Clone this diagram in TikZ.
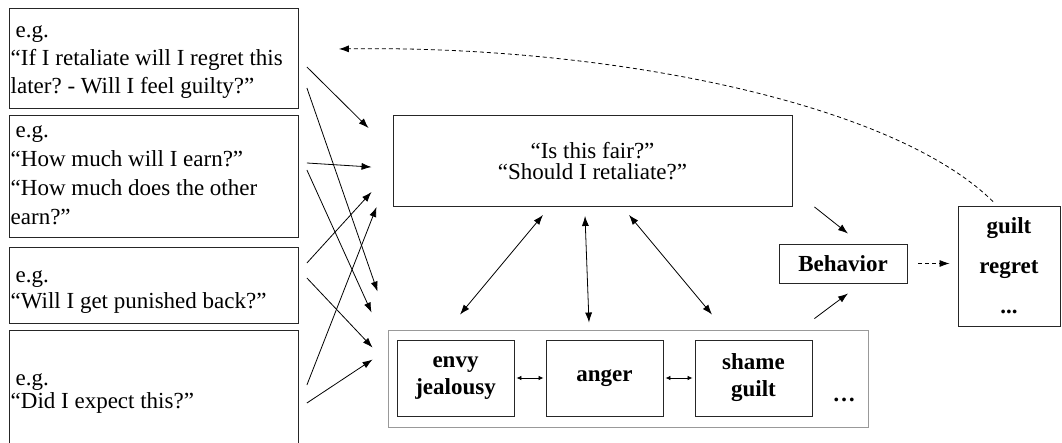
\documentclass[tikz,border=0pt]{standalone}
\usepackage{fontspec}
\setmainfont{Liberation Serif}
\usetikzlibrary{arrows.meta,calc}
\begin{document}
\frenchspacing
\begin{tikzpicture}[x=1pt,y=-1pt,
  box/.style={draw=black!85, line width=0.9pt, inner sep=0pt},
  qbox/.style={box, anchor=north west, minimum width=289pt},
  qtext/.style={anchor=base west, inner sep=0pt},
  ebox/.style={box, minimum width=117pt, minimum height=76pt, align=flush center,
    font=\fontsize{23}{27}\selectfont\bfseries},
  arr/.style={line width=0.8pt, -{Latex[length=10pt,width=7pt]}},
  darr/.style={line width=0.8pt, {Latex[length=10pt,width=7pt]}-{Latex[length=10pt,width=7pt]}},
  sarr/.style={line width=0.8pt, {Latex[length=5pt,width=4.5pt]}-{Latex[length=5pt,width=4.5pt]}},
  dsh/.style={line width=0.8pt, dash pattern=on 4pt off 3pt, -{Latex[length=10pt,width=7pt]}}
]
\path[use as bounding box, clip] (0,0) rectangle (1062,443);

% left question boxes
\node[qbox, minimum height=100pt] (b1) at (9,8) {};
\node[qbox, minimum height=122pt] (b2) at (9,115) {};
\node[qbox, minimum height=76pt] (b3) at (9,247) {};
\node[qbox, minimum height=123pt] (b4) at (9,330) {};

\node[qtext, font=\fontsize{23}{28}\selectfont] (t1) at (10.5,38)
  {\parbox[t]{285pt}{\raggedright\hspace*{5pt}e.g.\\“If I retaliate will I regret this\\later? - Will I feel guilty?”}};
\node[qtext, font=\fontsize{23}{28.7}\selectfont] (t2) at (10.5,138)
  {\parbox[t]{285pt}{\raggedright\hspace*{5pt}e.g.\\“How much will I earn?”\\“How much does the other\\earn?”}};
\node[qtext, font=\fontsize{23}{26}\selectfont] (t3) at (10.5,283)
  {\parbox[t]{285pt}{\raggedright\hspace*{5pt}e.g.\\“Will I get punished back?”}};
\node[qtext, font=\fontsize{23}{23}\selectfont] (t4) at (10.5,385)
  {\parbox[t]{285pt}{\raggedright\hspace*{5pt}e.g.\\“Did I expect this?”}};

% central question box
\node[box, minimum width=399pt, minimum height=91pt, align=flush center,
  font=\fontsize{23}{21}\selectfont] (c) at (592.5,161)
  {“Is this fair?”\\“Should I retaliate?”};

% emotion container
\node[draw=black!40, line width=0.9pt, minimum width=480pt, minimum height=97pt] (emo) at (628,378.5) {};
\node[ebox] (envy) at (455.5,378) {envy\\jealousy};
\node[ebox] (anger) at (604.5,378) {anger};
\node[ebox] (shame) at (753.5,378) {shame\\guilt};
\node[font=\fontsize{23}{27}\selectfont\bfseries] (dots) at (844,400) {…};

% behavior and outcome
\node[box, minimum width=128pt, minimum height=39pt, font=\fontsize{23}{27}\selectfont\bfseries] (beh) at (843,263.5) {Behavior};
\node[box, minimum width=102pt, minimum height=120pt, align=flush center,
  font=\fontsize{23}{40}\selectfont\bfseries] (out) at (1009,266) {guilt\\regret\\...};

% arrows from left boxes
\draw[arr] ($(b1.north east)+(8,59)$) -- ($(c.north west)+(-24,13)$);
\draw[arr] ($(b1.north east)+(8,80)$) -- ($(emo.north west)+(-10,-38)$);
\draw[arr] ($(b2.north east)+(8,48)$) -- ($(c.north west)+(-21,52)$);
\draw[arr] ($(b2.north east)+(8,55)$) -- ($(emo.north west)+(-16,-17)$);
\draw[arr] ($(b3.north east)+(8,16)$) -- ($(c.south west)+(-21,-15)$);
\draw[arr] ($(b3.north east)+(8,31)$) -- ($(emo.north west)+(-15,18)$);
\draw[arr] ($(b4.north east)+(8,55)$) -- ($(c.south west)+(-16,0)$);
\draw[arr] ($(b4.north east)+(8,73)$) -- ($(emo.north west)+(-15,30)$);

% centre <-> emotions
\draw[darr] ($(c.south)+(-49.5,8)$) -- ($(envy.north)+(4.5,-25)$);
\draw[darr] ($(c.south)+(-7.5,9)$) -- ($(anger.north)+(-15.5,-17)$);
\draw[darr] ($(c.south)+(36.5,8)$) -- ($(shame.north)+(-41.5,-25)$);

% between emotions
\draw[sarr, shorten <=2pt, shorten >=2pt] (envy.east) -- (anger.west);
\draw[sarr, shorten <=2pt, shorten >=2pt] (anger.east) -- (shame.west);

% to behavior
\draw[arr] ($(c.south east)+(22,0)$) -- ($(beh.north)+(5,-10)$);
\draw[arr] ($(emo.north east)+(-54,-11)$) -- ($(beh.south)+(5,10)$);
\draw[dsh, shorten <=11pt, shorten >=8pt] (beh.east) -- (beh.east -| out.west);

% feedback
\draw[dsh] ($(out.north)+(-16,-4)$) .. controls (890,100) and (600,45) .. ($(b1.north east)+(40,41)$);
\end{tikzpicture}
\end{document}
